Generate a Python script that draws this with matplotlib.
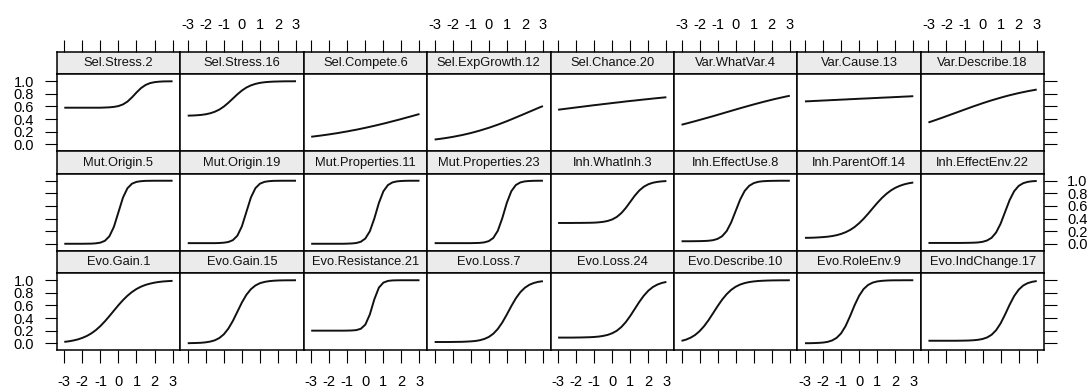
#!/usr/bin/env python3
"""Item characteristic curves in a lattice-like 3 x 8 panel grid."""

import sys

import matplotlib
matplotlib.use('Agg')
import matplotlib.pyplot as plt

# ability scale shared by every panel
theta = [-3.0, -2.75, -2.5, -2.25, -2.0, -1.75, -1.5, -1.25, -1.0, -0.75,
         -0.5, -0.25, 0.0, 0.25, 0.5, 0.75, 1.0, 1.25, 1.5, 1.75,
         2.0, 2.25, 2.5, 2.75, 3.0]

x_ticks = [-3, -2, -1, 0, 1, 2, 3]
y_ticks = [0.0, 0.2, 0.4, 0.6, 0.8, 1.0]

# top row
sel_var_titles = ['Sel.Stress.2', 'Sel.Stress.16', 'Sel.Compete.6', 'Sel.ExpGrowth.12',
                  'Sel.Chance.20', 'Var.WhatVar.4', 'Var.Cause.13', 'Var.Describe.18']
sel_var_curves = [
    [0.580, 0.580, 0.580, 0.580, 0.580, 0.580, 0.580, 0.580, 0.580, 0.583, 0.586, 0.593, 0.606,
     0.632, 0.677, 0.744, 0.821, 0.891, 0.940, 0.970, 0.985, 0.993, 0.997, 0.998, 0.999],
    [0.454, 0.456, 0.460, 0.466, 0.476, 0.492, 0.516, 0.550, 0.598, 0.658, 0.725, 0.792, 0.852,
     0.900, 0.934, 0.958, 0.974, 0.984, 0.990, 0.994, 0.996, 0.998, 0.999, 0.999, 1.000],
    [0.119, 0.128, 0.137, 0.147, 0.157, 0.168, 0.179, 0.192, 0.204, 0.218, 0.231, 0.246, 0.261,
     0.277, 0.293, 0.310, 0.327, 0.345, 0.364, 0.382, 0.401, 0.421, 0.440, 0.460, 0.480],
    [0.075, 0.084, 0.094, 0.105, 0.117, 0.131, 0.145, 0.161, 0.178, 0.197, 0.217, 0.239, 0.261,
     0.286, 0.311, 0.338, 0.366, 0.395, 0.425, 0.455, 0.485, 0.516, 0.546, 0.577, 0.606],
    [0.548, 0.557, 0.566, 0.575, 0.584, 0.593, 0.602, 0.611, 0.620, 0.628, 0.637, 0.645, 0.654,
     0.662, 0.670, 0.679, 0.687, 0.694, 0.702, 0.710, 0.717, 0.725, 0.732, 0.739, 0.746],
    [0.310, 0.328, 0.347, 0.366, 0.386, 0.406, 0.426, 0.446, 0.467, 0.488, 0.509, 0.530, 0.551,
     0.572, 0.592, 0.612, 0.632, 0.651, 0.670, 0.688, 0.706, 0.723, 0.739, 0.755, 0.770],
    [0.680, 0.683, 0.687, 0.690, 0.694, 0.697, 0.701, 0.704, 0.708, 0.711, 0.715, 0.718, 0.722,
     0.725, 0.728, 0.732, 0.735, 0.739, 0.742, 0.745, 0.749, 0.752, 0.756, 0.759, 0.763],
    [0.346, 0.370, 0.395, 0.420, 0.446, 0.472, 0.498, 0.524, 0.550, 0.576, 0.602, 0.626, 0.651,
     0.674, 0.697, 0.718, 0.739, 0.759, 0.778, 0.795, 0.812, 0.827, 0.842, 0.855, 0.868],
]

# middle row
mut_inh_titles = ['Mut.Origin.5', 'Mut.Origin.19', 'Mut.Properties.11', 'Mut.Properties.23',
                  'Inh.WhatInh.3', 'Inh.EffectUse.8', 'Inh.ParentOff.14', 'Inh.EffectEnv.22']
mut_inh_curves = [
    [0.000, 0.000, 0.000, 0.000, 0.000, 0.001, 0.002, 0.007, 0.018, 0.047, 0.119, 0.269, 0.500,
     0.731, 0.881, 0.953, 0.982, 0.993, 0.998, 0.999, 1.000, 1.000, 1.000, 1.000, 1.000],
    [0.010, 0.010, 0.010, 0.010, 0.010, 0.010, 0.010, 0.012, 0.017, 0.028, 0.057, 0.128, 0.276,
     0.505, 0.734, 0.882, 0.953, 0.982, 0.993, 0.998, 0.999, 1.000, 1.000, 1.000, 1.000],
    [0.000, 0.000, 0.000, 0.000, 0.000, 0.000, 0.000, 0.000, 0.002, 0.005, 0.012, 0.032, 0.083,
     0.198, 0.401, 0.646, 0.832, 0.931, 0.973, 0.990, 0.996, 0.999, 1.000, 1.000, 1.000],
    [0.010, 0.010, 0.010, 0.010, 0.010, 0.010, 0.010, 0.010, 0.010, 0.012, 0.014, 0.022, 0.042,
     0.092, 0.206, 0.407, 0.650, 0.834, 0.932, 0.973, 0.990, 0.996, 0.999, 1.000, 1.000],
    [0.330, 0.330, 0.330, 0.330, 0.331, 0.331, 0.332, 0.333, 0.335, 0.340, 0.348, 0.362, 0.386,
     0.425, 0.485, 0.567, 0.665, 0.763, 0.845, 0.905, 0.944, 0.968, 0.982, 0.990, 0.995],
    [0.040, 0.040, 0.040, 0.041, 0.042, 0.044, 0.048, 0.057, 0.078, 0.120, 0.201, 0.338, 0.520,
     0.702, 0.839, 0.920, 0.962, 0.983, 0.992, 0.996, 0.998, 0.999, 1.000, 1.000, 1.000],
    [0.094, 0.095, 0.097, 0.101, 0.106, 0.112, 0.122, 0.136, 0.156, 0.183, 0.219, 0.266, 0.326,
     0.397, 0.477, 0.562, 0.646, 0.723, 0.789, 0.844, 0.887, 0.919, 0.943, 0.960, 0.972],
    [0.013, 0.013, 0.013, 0.013, 0.013, 0.013, 0.013, 0.013, 0.014, 0.015, 0.017, 0.021, 0.031,
     0.052, 0.095, 0.179, 0.319, 0.507, 0.694, 0.834, 0.918, 0.961, 0.982, 0.992, 0.996],
]

# bottom row
evo_titles = ['Evo.Gain.1', 'Evo.Gain.15', 'Evo.Resistance.21', 'Evo.Loss.7',
              'Evo.Loss.24', 'Evo.Describe.10', 'Evo.RoleEnv.9', 'Evo.IndChange.17']
evo_curves = [
    [0.022, 0.031, 0.044, 0.061, 0.085, 0.116, 0.157, 0.209, 0.273, 0.348, 0.431, 0.518, 0.604,
     0.684, 0.754, 0.813, 0.861, 0.898, 0.926, 0.946, 0.962, 0.973, 0.981, 0.986, 0.990],
    [0.001, 0.003, 0.005, 0.008, 0.015, 0.027, 0.047, 0.083, 0.142, 0.232, 0.354, 0.500, 0.646,
     0.769, 0.858, 0.917, 0.953, 0.973, 0.985, 0.992, 0.996, 0.998, 0.999, 0.999, 1.000],
    [0.200, 0.200, 0.200, 0.200, 0.200, 0.200, 0.200, 0.200, 0.201, 0.203, 0.209, 0.230, 0.295,
     0.457, 0.698, 0.882, 0.962, 0.989, 0.997, 0.999, 1.000, 1.000, 1.000, 1.000, 1.000],
    [0.020, 0.020, 0.020, 0.020, 0.021, 0.022, 0.023, 0.026, 0.030, 0.036, 0.048, 0.068, 0.100,
     0.151, 0.227, 0.330, 0.456, 0.590, 0.713, 0.811, 0.881, 0.928, 0.957, 0.975, 0.985],
    [0.090, 0.090, 0.090, 0.090, 0.091, 0.092, 0.094, 0.096, 0.100, 0.106, 0.117, 0.133, 0.159,
     0.198, 0.256, 0.335, 0.434, 0.545, 0.656, 0.755, 0.834, 0.892, 0.931, 0.957, 0.973],
    [0.038, 0.058, 0.088, 0.131, 0.192, 0.271, 0.368, 0.478, 0.589, 0.692, 0.779, 0.847, 0.897,
     0.932, 0.955, 0.971, 0.981, 0.988, 0.992, 0.995, 0.997, 0.998, 0.999, 0.999, 1.000],
    [0.001, 0.001, 0.003, 0.006, 0.011, 0.022, 0.044, 0.085, 0.157, 0.273, 0.431, 0.604, 0.754,
     0.861, 0.926, 0.962, 0.981, 0.990, 0.995, 0.998, 0.999, 0.999, 1.000, 1.000, 1.000],
    [0.040, 0.040, 0.040, 0.040, 0.040, 0.040, 0.040, 0.041, 0.042, 0.044, 0.048, 0.055, 0.068,
     0.092, 0.135, 0.207, 0.316, 0.458, 0.612, 0.749, 0.850, 0.916, 0.954, 0.975, 0.987],
]

# layout in pixels (figure is 1090 x 388)
FIG_W, FIG_H = 1090, 388
LEFT, TOP = 56.7, 51.7
PANEL_W, ROW_H, STRIP_H = 123.45, 99.5, 22.6
STRIP_BG = '#ebebeb'
TICK_KW = dict(direction='out', length=9, width=0.8, colors='black')


def box(x, y, w, h):
    """Convert a pixel box (top-left origin) to figure fractions."""
    return [x / FIG_W, 1 - (y + h) / FIG_H, w / FIG_W, h / FIG_H]


def style_frame(ax):
    for side in ax.spines.values():
        side.set_linewidth(1.1)
        side.set_color('black')


def draw_panel(fig, row, col, title, values):
    x0 = LEFT + col * PANEL_W
    y0 = TOP + row * ROW_H

    strip = fig.add_axes(box(x0, y0, PANEL_W, STRIP_H))
    strip.set_facecolor(STRIP_BG)
    strip.set_xlim(-3.42, 3.42)
    strip.set_ylim(0, 1)
    strip.set_yticks([])
    strip.text(0, 0.48, title, ha='center', va='center', fontsize=9.3, color='#111111')
    style_frame(strip)
    if row == 0:
        strip.xaxis.set_ticks_position('top')
        strip.set_xticks(x_ticks)
        strip.set_xticklabels([str(v) for v in x_ticks] if col % 2 == 1 else [])
        strip.tick_params(axis='x', labelsize=10.5, pad=5.5, **TICK_KW)
    else:
        strip.set_xticks([])

    ax = fig.add_axes(box(x0, y0 + STRIP_H, PANEL_W, ROW_H - STRIP_H))
    ax.plot(theta, values, color='#111111', linewidth=1.4, solid_capstyle='butt')
    ax.set_xlim(-3.42, 3.42)
    ax.set_ylim(-0.11, 1.11)
    style_frame(ax)

    if row == 2:
        ax.set_xticks(x_ticks)
        ax.set_xticklabels([str(v) for v in x_ticks] if col % 2 == 0 else [])
        ax.tick_params(axis='x', labelsize=10.5, pad=9, **TICK_KW)
    else:
        ax.set_xticks([])

    if col == 0 or col == 7:
        ax.set_yticks(y_ticks)
        show = (col == 0 and row != 1) or (col == 7 and row == 1)
        ax.set_yticklabels([f'{v:.1f}' for v in y_ticks] if show else [])
        if col == 7:
            ax.yaxis.set_ticks_position('right')
        ax.tick_params(axis='y', labelsize=10.5, pad=7.5, **TICK_KW)
    else:
        ax.set_yticks([])


def main() -> int:
    plt.rcParams['font.family'] = ['Liberation Sans', 'DejaVu Sans']
    plt.rcParams['axes.unicode_minus'] = False

    fig = plt.figure(figsize=(FIG_W / 100, FIG_H / 100), dpi=100)
    rows = [(sel_var_titles, sel_var_curves),
            (mut_inh_titles, mut_inh_curves),
            (evo_titles, evo_curves)]
    for r, (titles, curves) in enumerate(rows):
        for c, (title, values) in enumerate(zip(titles, curves)):
            draw_panel(fig, r, c, title, values)

    fig.savefig('out.png', dpi=100)
    plt.close(fig)
    return 0


if __name__ == '__main__':
    sys.exit(main())
